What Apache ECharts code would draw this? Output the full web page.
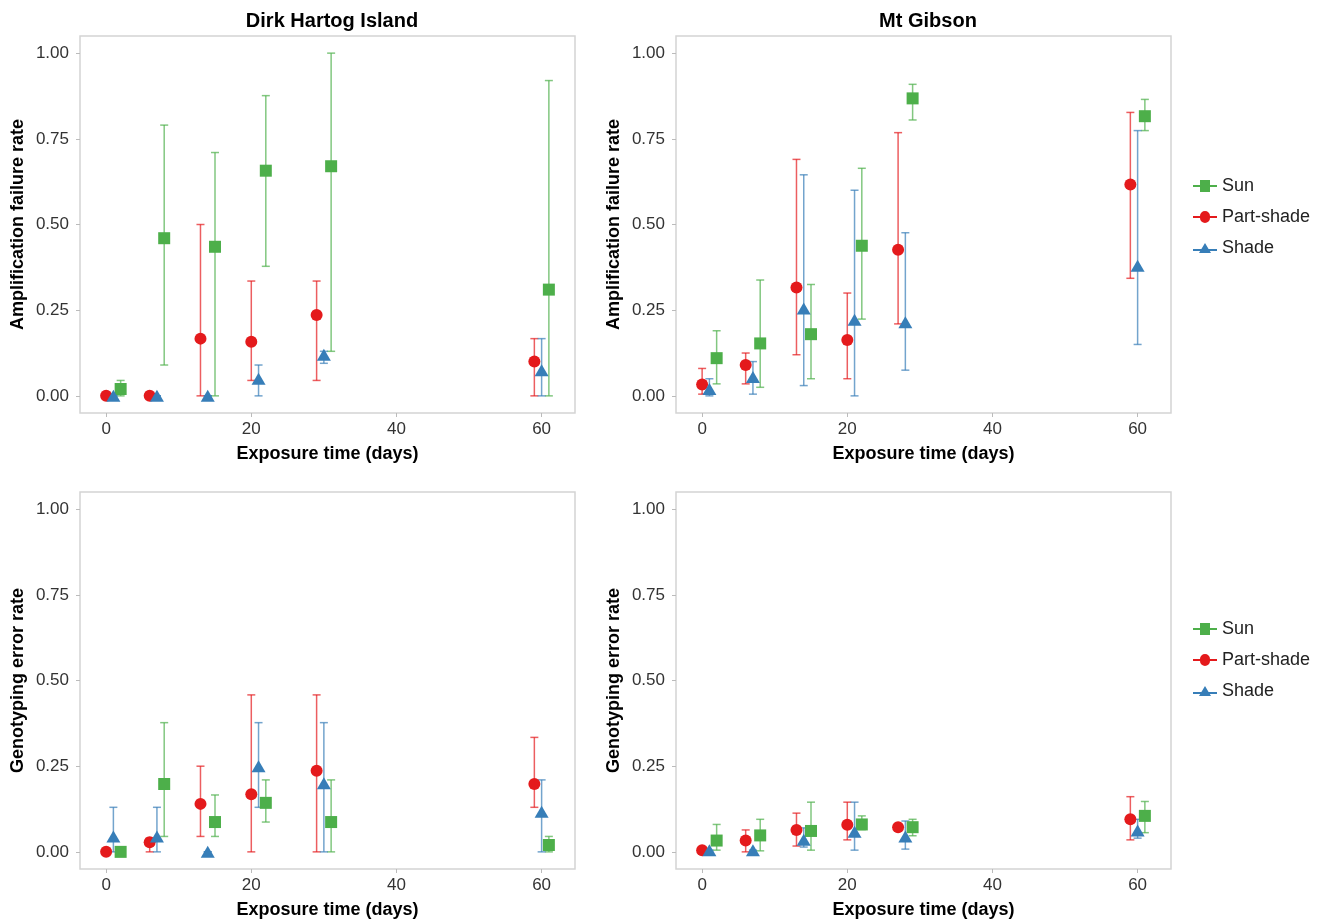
<!DOCTYPE html>
<html>
<head>
<meta charset="utf-8">
<title>Exposure time vs failure / error rate</title>
<script src="https://cdn.jsdelivr.net/npm/echarts@6/dist/echarts.min.js"></script>
<style>
  html, body { margin: 0; padding: 0; background: #fff; }
  #chart { width: 1325px; height: 922px; }
</style>
</head>
<body>
<div id="chart"></div>
<script>
// sampling days per site
const dhDays = [1, 7, 14, 21, 30, 60];
const mgDays = [1, 7, 14, 21, 28, 60];

const treatments = ['Sun', 'Part-shade', 'Shade'];
const xTicks = [0, 20, 40, 60];
const yTicks = [0, 0.25, 0.5, 0.75, 1];

// [mean, lower, upper] per day
// Dirk Hartog Island - amplification failure
const dhAmpSun = [[0.02, 0, 0.045], [0.46, 0.09, 0.79], [0.435, 0, 0.71], [0.657, 0.378, 0.876], [0.67, 0.13, 1.0], [0.31, 0, 0.92]];
const dhAmpPart = [[0, 0, 0], [0, 0, 0], [0.167, 0, 0.5], [0.158, 0.045, 0.335], [0.236, 0.045, 0.335], [0.1, 0, 0.167]];
const dhAmpShade = [[0, 0, 0], [0, 0, 0], [0, 0, 0], [0.05, 0, 0.09], [0.12, 0.095, 0.13], [0.075, 0, 0.167]];

// Mt Gibson - amplification failure
const mgAmpSun = [[0.11, 0.035, 0.19], [0.153, 0.025, 0.338], [0.18, 0.05, 0.325], [0.438, 0.224, 0.664], [0.868, 0.805, 0.909], [0.816, 0.774, 0.865]];
const mgAmpPart = [[0.033, 0.005, 0.08], [0.09, 0.035, 0.125], [0.316, 0.12, 0.69], [0.163, 0.05, 0.3], [0.426, 0.21, 0.768], [0.617, 0.343, 0.827]];
const mgAmpShade = [[0.02, 0, 0.05], [0.055, 0.005, 0.1], [0.255, 0.03, 0.645], [0.222, 0, 0.6], [0.215, 0.075, 0.476], [0.38, 0.15, 0.774]];

// Dirk Hartog Island - genotyping error
const dhGenSun = [[0, 0, 0], [0.198, 0.045, 0.377], [0.087, 0.045, 0.166], [0.143, 0.087, 0.21], [0.087, 0, 0.21], [0.02, 0, 0.045]];
const dhGenPart = [[0, 0, 0], [0.028, 0, 0.04], [0.14, 0.045, 0.25], [0.168, 0, 0.458], [0.237, 0, 0.458], [0.198, 0.13, 0.334]];
const dhGenShade = [[0.045, 0, 0.13], [0.045, 0, 0.13], [0, 0, 0], [0.25, 0.13, 0.377], [0.2, 0, 0.377], [0.117, 0, 0.21]];

// Mt Gibson - genotyping error
const mgGenSun = [[0.033, 0.005, 0.08], [0.048, 0.003, 0.095], [0.061, 0.005, 0.145], [0.08, 0.065, 0.105], [0.072, 0.047, 0.095], [0.105, 0.056, 0.147]];
const mgGenPart = [[0.005, 0, 0.01], [0.033, 0, 0.064], [0.064, 0.017, 0.113], [0.079, 0.035, 0.145], [0.072, 0.072, 0.072], [0.095, 0.035, 0.161]];
const mgGenShade = [[0.005, 0, 0.005], [0.005, 0, 0.005], [0.035, 0.014, 0.07], [0.059, 0.005, 0.145], [0.045, 0.008, 0.09], [0.062, 0.04, 0.095]];

const panels = [
  { days: dhDays, data: [dhAmpSun, dhAmpPart, dhAmpShade], yName: 'Amplification failure rate' },
  { days: mgDays, data: [mgAmpSun, mgAmpPart, mgAmpShade], yName: 'Amplification failure rate' },
  { days: dhDays, data: [dhGenSun, dhGenPart, dhGenShade], yName: 'Genotyping error rate' },
  { days: mgDays, data: [mgGenSun, mgGenPart, mgGenShade], yName: 'Genotyping error rate' }
];

const colors = ['#4daf4a', '#e41a1c', '#377eb8'];
const symbols = ['rect', 'circle', 'triangle'];
const symbolSizes = [12, 12, [14, 12]];
const dodge = [1, -1, 0]; // sun right, part-shade left, shade centre
const icons = [
  'path://M0,6H7V1H17V6H24V8H17V13H7V8H0Z',
  'path://M0,6H7A5,5 0 0 1 17,6H24V8H17A5,5 0 0 1 7,8H0Z',
  'path://M0,7H8.4L12,1L15.6,7H24V9H16.8L18,11H6L7.2,9H0Z'
];

const gridPos = [
  { left: 80, top: 36, width: 495, height: 377 },
  { left: 676, top: 36, width: 495, height: 377 },
  { left: 80, top: 492, width: 495, height: 377 },
  { left: 676, top: 492, width: 495, height: 377 }
];

const labelColor = '#333';
const font = 'Liberation Sans, Arial, sans-serif';

function renderBar(params, api) {
  const x = api.value(0);
  const a = api.coord([x, api.value(1)]);
  const b = api.coord([x, api.value(2)]);
  const c = 4;
  const style = { stroke: api.visual('color'), lineWidth: 1.5, opacity: 0.7 };
  return {
    type: 'group',
    children: [
      { type: 'line', shape: { x1: a[0], y1: a[1], x2: b[0], y2: b[1] }, style: style },
      { type: 'line', shape: { x1: a[0] - c, y1: a[1], x2: a[0] + c, y2: a[1] }, style: style },
      { type: 'line', shape: { x1: b[0] - c, y1: b[1], x2: b[0] + c, y2: b[1] }, style: style }
    ]
  };
}

const grids = [], xAxes = [], yAxes = [], bars = [], points = [];

panels.forEach((p, gi) => {
  grids.push(Object.assign({ show: true, borderColor: '#d4d4d4', borderWidth: 1.5, backgroundColor: '#fff' }, gridPos[gi]));
  xAxes.push({
    type: 'value', gridIndex: gi, min: -3.6, max: 64.6,
    name: 'Exposure time (days)', nameLocation: 'middle', nameGap: 32,
    nameTextStyle: { fontFamily: font, fontSize: 18, fontWeight: 'bold', color: '#000' },
    axisLine: { show: false, onZero: false },
    axisTick: { show: true, length: 4, lineStyle: { color: '#bbb' }, customValues: xTicks },
    axisLabel: { fontFamily: font, fontSize: 17, color: labelColor, margin: 8, customValues: xTicks },
    splitLine: { show: false }
  });
  yAxes.push({
    type: 'value', gridIndex: gi, min: -0.05, max: 1.05,
    name: p.yName, nameLocation: 'middle', nameGap: 53,
    nameTextStyle: { fontFamily: font, fontSize: 18, fontWeight: 'bold', color: '#000' },
    axisLine: { show: false, onZero: false },
    axisTick: { show: true, length: 4, lineStyle: { color: '#bbb' }, customValues: yTicks },
    axisLabel: { fontFamily: font, fontSize: 17, color: labelColor, margin: 11, customValues: yTicks,
      formatter: v => v.toFixed(2) },
    splitLine: { show: false }
  });
  p.data.forEach((rows, si) => {
    const pts = rows.map((r, i) => [p.days[i] + dodge[si], r[0], r[1], r[2]]);
    bars.push({
      type: 'custom', name: treatments[si] + ' bars', xAxisIndex: gi, yAxisIndex: gi,
      renderItem: renderBar, itemStyle: { color: colors[si] },
      encode: { x: 0, y: [2, 3] },
      data: pts.map(d => [d[0], d[2], d[3]]), z: 2, silent: true
    });
    points.push({
      type: 'scatter', name: treatments[si], xAxisIndex: gi, yAxisIndex: gi,
      symbol: symbols[si], symbolSize: symbolSizes[si],
      itemStyle: { color: colors[si], opacity: 1 },
      data: pts.map(d => [d[0], d[1]]), z: 3
    });
  });
});

const legendBase = {
  orient: 'vertical', left: 1188, itemWidth: 24, itemHeight: 12, itemGap: 13,
  textStyle: { fontFamily: font, fontSize: 18, color: '#222' },
  data: treatments.map((t, i) => ({ name: t, icon: icons[i] }))
};

const chart = echarts.init(document.getElementById('chart'));
chart.setOption({
  backgroundColor: '#fff',
  animation: false,
  title: [
    { text: 'Dirk Hartog Island', left: 327, top: 6, textAlign: 'center',
      textStyle: { fontFamily: font, fontSize: 20, fontWeight: 'bold', color: '#000' } },
    { text: 'Mt Gibson', left: 923, top: 6, textAlign: 'center',
      textStyle: { fontFamily: font, fontSize: 20, fontWeight: 'bold', color: '#000' } }
  ],
  legend: [
    Object.assign({}, legendBase, { top: 172 }),
    Object.assign({}, legendBase, { top: 615 })
  ],
  grid: grids,
  xAxis: xAxes,
  yAxis: yAxes,
  series: bars.concat(points)
});
</script>
</body>
</html>
